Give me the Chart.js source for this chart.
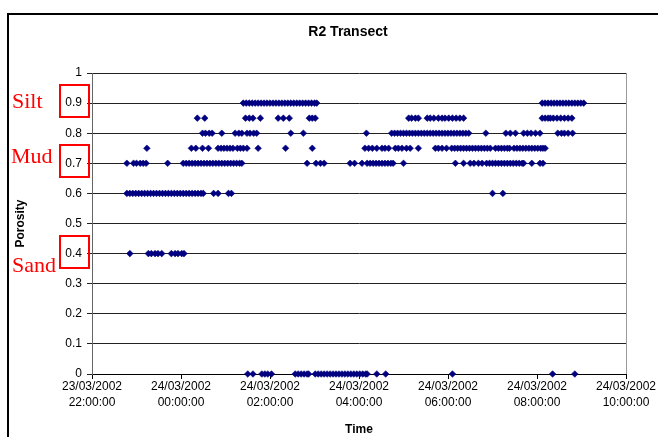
<!DOCTYPE html>
<html>
<head>
<meta charset="utf-8">
<script src="https://cdn.jsdelivr.net/npm/chart.js@4.4.1/dist/chart.umd.min.js"></script>
<style>
  html, body { margin: 0; padding: 0; background: #fff; overflow: hidden; }
  #wrap { position: relative; width: 658px; height: 437px; }
  #wrap canvas { position: absolute; left: 0; top: 0; }
  #frame { position: absolute; left: 7px; top: 13px; width: 700px; height: 500px;
           border-left: 2px solid #000; border-top: 2px solid #000; pointer-events: none; }
</style>
</head>
<body>
<div id="wrap">
  <canvas id="chart" width="658" height="437"></canvas>
  <div id="frame"></div>
</div>
<script>
// ---- Text ----
const chartTitle = 'R2 Transect';
const xAxisTitle = 'Time';
const yAxisTitle = 'Porosity';

// ---- Axes (hours counted from 23/03/2002 00:00) ----
const xMinHour = 22;
const xMaxHour = 34;
const xStepHours = 2;
const yMin = 0;
const yMax = 1;
const yStep = 0.1;

// ---- Sediment classes marked beside the porosity axis ----
const classNames = ['Silt', 'Mud', 'Sand'];
const classPorosity = [0.9, 0.7, 0.4];

// ---- Porosity readings: sample times (HH:MM) grouped by porosity value ----
const porosityLevels = [0, 0.4, 0.6, 0.7, 0.75, 0.8, 0.85, 0.9];

const timesAt000 = ['01:30','01:37','01:49','01:53','01:57','02:02','02:34','02:38','02:42','02:46',
  '02:50','02:52','03:01','03:05','03:09','03:13','03:17','03:21','03:25','03:29','03:33','03:37',
  '03:41','03:45','03:49','03:53','03:57','04:01','04:05','04:09','04:11','04:24','04:36','06:06',
  '08:21','08:51'];

const timesAt040 = ['22:51','23:16','23:20','23:25','23:29','23:34','23:47','23:52','23:56','00:01','00:04'];

const timesAt060 = ['22:47','22:51','22:55','22:59','23:03','23:07','23:11','23:15','23:19','23:23',
  '23:27','23:31','23:35','23:39','23:43','23:47','23:51','23:55','23:59','00:03','00:07','00:11',
  '00:15','00:19','00:23','00:27','00:30','00:44','00:50','01:04','01:08','07:00','07:14'];

const timesAt070 = ['22:47','22:56','23:00','23:05','23:09','23:13','23:42','00:03','00:07','00:11',
  '00:15','00:19','00:23','00:27','00:31','00:35','00:39','00:43','00:47','00:51','00:55','00:59',
  '01:03','01:07','01:11','01:15','01:19','01:22','02:50','03:02','03:08','03:13','03:48','03:54',
  '04:04','04:11','04:15','04:19','04:23','04:27','04:31','04:35','04:39','04:43','04:46','05:00',
  '06:10','06:21','06:30','06:35','06:41','06:46','06:52','06:56','07:00','07:04','07:08','07:12',
  '07:16','07:20','07:24','07:28','07:32','07:36','07:40','07:42','07:53','08:04','08:08'];

const timesAt075 = ['23:14','00:14','00:20','00:29','00:37','00:50','00:54','00:58','01:02','01:06',
  '01:10','01:16','01:20','01:24','01:29','01:44','02:21','02:57','04:08','04:13','04:18','04:24',
  '04:31','04:35','04:40','04:49','04:53','04:58','05:04','05:09','05:20','05:43','05:47','05:52',
  '05:58','06:05','06:09','06:13','06:17','06:21','06:25','06:29','06:33','06:37','06:41','06:45',
  '06:49','06:53','06:57','07:04','07:08','07:12','07:16','07:20','07:23','07:29','07:33','07:37',
  '07:41','07:45','07:49','07:53','07:57','08:01','08:05','08:08','08:11'];

const timesAt080 = ['00:29','00:33','00:38','00:42','00:55','01:13','01:18','01:22','01:29','01:33',
  '01:38','01:42','02:28','02:45','04:10','04:44','04:48','04:52','04:56','05:00','05:04','05:08',
  '05:12','05:16','05:20','05:24','05:28','05:32','05:36','05:40','05:44','05:48','05:52','05:56',
  '06:00','06:04','06:08','06:12','06:16','06:20','06:24','06:28','06:51','07:18','07:24','07:31',
  '07:42','07:47','07:52','07:58','08:04','08:28','08:33','08:37','08:42','08:48'];

const timesAt085 = ['00:22','00:32','01:27','01:32','01:37','01:47','02:11','02:18','02:26','02:53',
  '02:57','03:01','05:07','05:11','05:16','05:20','05:32','05:36','05:41','05:47','05:52','05:56',
  '06:01','06:06','06:11','06:16','06:21','08:07','08:11','08:15','08:18','08:22','08:27','08:32',
  '08:37','08:42','08:47'];

const timesAt090 = ['01:24','01:28','01:32','01:36','01:40','01:44','01:48','01:52','01:56','02:00',
  '02:04','02:08','02:12','02:16','02:20','02:24','02:28','02:32','02:36','02:40','02:44','02:48',
  '02:52','02:56','03:00','03:03','08:07','08:11','08:15','08:19','08:23','08:27','08:31','08:35',
  '08:39','08:43','08:47','08:51','08:55','08:59','09:03'];

const timesByLevel = [timesAt000, timesAt040, timesAt060, timesAt070, timesAt075, timesAt080, timesAt085, timesAt090];

// Clock time -> hours since 23/03/2002 00:00 (morning readings fall on 24/03)
function toHours(clock) {
  const [h, m] = clock.split(':').map(Number);
  return (h < 12 ? h + 24 : h) + m / 60;
}

const pad2 = n => String(n).padStart(2, '0');

const MARKER = '#000080';
const FONT = "'Liberation Sans', Arial, sans-serif";

const datasets = porosityLevels.map((level, i) => ({
  label: 'Porosity ' + level,
  data: timesByLevel[i].map(t => ({ x: toHours(t), y: level })),
  pointStyle: 'rectRot',
  pointRadius: 3.3,
  pointHoverRadius: 3.3,
  pointBorderWidth: 0.6,
  backgroundColor: MARKER,
  borderColor: MARKER,
  showLine: false,
  clip: false
}));

// Chart heading, centred over the whole framed chart
const headingPlugin = {
  id: 'heading',
  afterDraw(chart) {
    const ctx = chart.ctx;
    ctx.save();
    ctx.font = 'bold 14px ' + FONT;
    ctx.fillStyle = '#000';
    ctx.textAlign = 'center';
    ctx.textBaseline = 'middle';
    ctx.fillText(chartTitle, 348, 32);
    ctx.restore();
  }
};

// Right edge of the plot area
const plotEdgePlugin = {
  id: 'plotEdge',
  beforeDatasetsDraw(chart) {
    const { ctx, chartArea } = chart;
    ctx.save();
    ctx.strokeStyle = '#9a9a9a';
    ctx.lineWidth = 1;
    ctx.beginPath();
    ctx.moveTo(Math.round(chartArea.right) + 0.5, chartArea.top);
    ctx.lineTo(Math.round(chartArea.right) + 0.5, chartArea.bottom);
    ctx.stroke();
    ctx.restore();
  }
};

// Red class names with boxes around their porosity tick labels
const classMarkPlugin = {
  id: 'classMarks',
  afterDraw(chart) {
    const ctx = chart.ctx;
    const y = chart.scales.y;
    const textShift = { Silt: 5, Mud: 0, Sand: 18 };
    const textLeft = { Silt: 12, Mud: 11, Sand: 12 };
    ctx.save();
    ctx.strokeStyle = '#ff0000';
    ctx.fillStyle = '#ff0000';
    ctx.lineWidth = 2;
    ctx.font = '22px "Liberation Serif", "Times New Roman", serif';
    ctx.textAlign = 'left';
    ctx.textBaseline = 'alphabetic';
    classNames.forEach((name, i) => {
      const py = y.getPixelForValue(classPorosity[i]);
      ctx.strokeRect(60, Math.round(py) - 18, 29, 32);
      ctx.fillText(name, textLeft[name], py + textShift[name]);
    });
    ctx.restore();
  }
};

new Chart(document.getElementById('chart'), {
  type: 'scatter',
  data: { datasets },
  plugins: [plotEdgePlugin, headingPlugin, classMarkPlugin],
  options: {
    responsive: false,
    animation: false,
    devicePixelRatio: 1,
    layout: { padding: { top: 73, right: 32, bottom: 0, left: 0 } },
    plugins: {
      legend: { display: false },
      title: { display: false },
      tooltip: { enabled: false }
    },
    scales: {
      x: {
        type: 'linear',
        min: xMinHour,
        max: xMaxHour,
        afterFit(scale) { scale.height = 63; },
        ticks: {
          stepSize: xStepHours,
          autoSkip: false,
          maxRotation: 0,
          minRotation: 0,
          padding: 0,
          color: '#000',
          font: { family: FONT, size: 12, lineHeight: 1.3 },
          callback: v => [v < 24 ? '23/03/2002' : '24/03/2002', pad2(v % 24) + ':00:00']
        },
        grid: { drawOnChartArea: false, drawTicks: true, tickLength: 5, color: '#000', lineWidth: 1 },
        border: { display: true, color: '#000', width: 1 },
        title: {
          display: true,
          text: xAxisTitle,
          color: '#000',
          font: { family: FONT, size: 12, weight: 'bold' },
          padding: { top: 0, bottom: 0 }
        }
      },
      y: {
        type: 'linear',
        min: yMin,
        max: yMax,
        afterFit(scale) { scale.width = 92; },
        ticks: {
          stepSize: yStep,
          padding: 5,
          color: '#000',
          font: { family: FONT, size: 12 },
          callback: v => String(+v.toFixed(1))
        },
        grid: { color: '#222', lineWidth: 1, tickLength: 5, drawTicks: true },
        border: { display: true, color: '#666', width: 1 },
        title: {
          display: true,
          text: yAxisTitle,
          color: '#000',
          font: { family: FONT, size: 12, weight: 'bold' },
          padding: { top: 13, bottom: 0 }
        }
      }
    }
  }
});
</script>
</body>
</html>
